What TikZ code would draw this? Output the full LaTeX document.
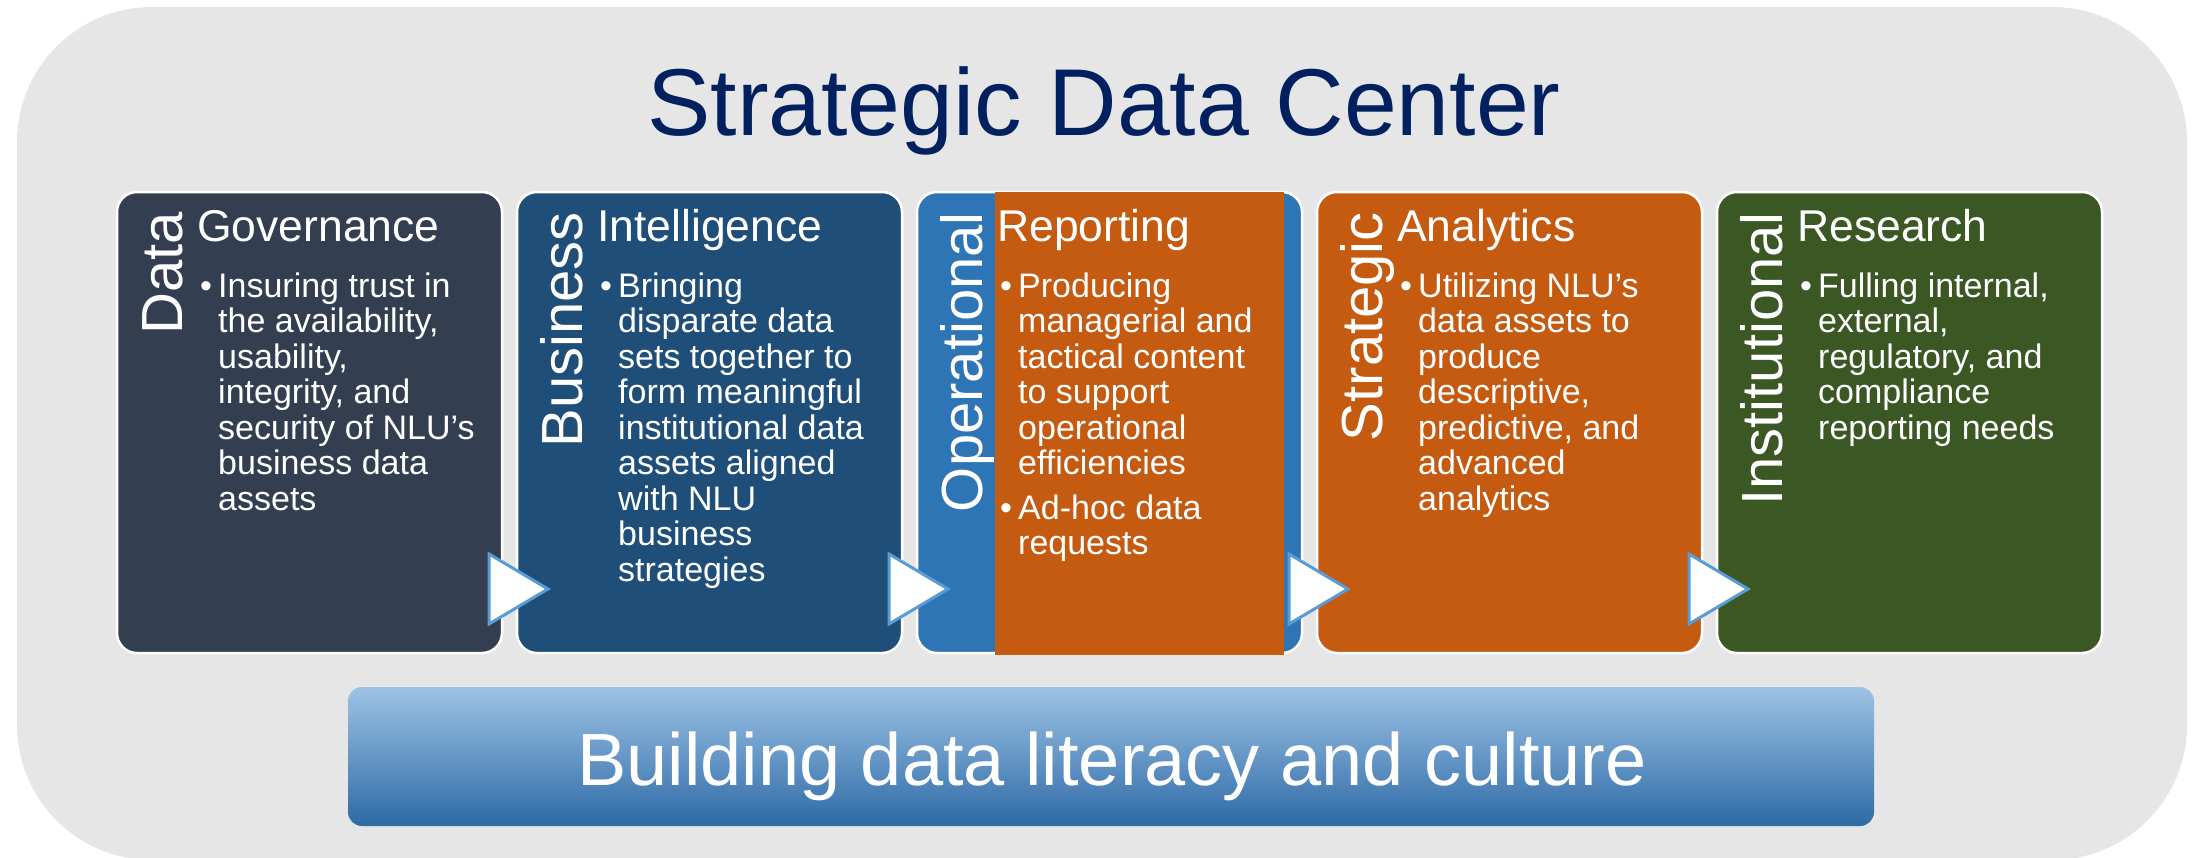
\documentclass[tikz,border=0pt]{standalone}
\usepackage{fontspec}
\setmainfont{Liberation Sans}
\definecolor{bggray}{HTML}{E6E6E6}
\definecolor{navy}{HTML}{002060}
\definecolor{cone}{HTML}{333F50}
\definecolor{ctwo}{HTML}{1F4E79}
\definecolor{cthree}{HTML}{2E75B6}
\definecolor{orng}{HTML}{C55A11}
\definecolor{cfive}{HTML}{3A5724}
\definecolor{triblue}{HTML}{5B9BD5}
\definecolor{bantop}{HTML}{9DC3E6}
\definecolor{banmid}{HTML}{5E9BD3}
\definecolor{banbot}{HTML}{2E6AA6}
\newcommand\bulx{\makebox[18pt][l]{\textbullet}}
\newcommand\indx{\hspace*{18pt}}
\newcommand\blist[1]{\begin{tabular}[t]{@{}l@{}}#1\end{tabular}}
\begin{document}
\begin{tikzpicture}[x=1pt,y=-1pt,
  box/.style={draw=white, line width=2.5pt, rounded corners=20pt, minimum width=385pt, minimum height=461pt, inner sep=0pt},
  vlabel/.style={rotate=90, anchor=base east, inner sep=0pt, text=white, font=\fontsize{58}{58}\selectfont},
  head/.style={anchor=base west, inner sep=0pt, text=white, font=\fontsize{44.5}{50}\selectfont},
  body/.style={anchor=base west, inner sep=0pt, text=white, font=\fontsize{34}{35.5}\selectfont},
  tri/.style={fill=white, draw=triblue, line width=3pt, line join=miter}]
\useasboundingbox (0,0) rectangle (2198,857);
\begin{scope}
\clip (0,0) rectangle (2198,857);
\fill[bggray, rounded corners=135pt] (17,7) rectangle (2187,860);
\end{scope}
\node[anchor=base, inner sep=0pt, text=navy, font=\fontsize{95}{95}\selectfont] (title) at (1104,135) {Strategic Data Center};
% boxes
\node[box, fill=cone] (b1) at (309.5,422.5) {};
\node[box, fill=ctwo] (b2) at (709.5,422.5) {};
\node[box, fill=cthree] (b3) at (1109.5,422.5) {};
\node[box, fill=orng] (b4) at (1509.5,422.5) {};
\node[box, fill=cfive] (b5) at (1909.5,422.5) {};
\node[fill=orng, anchor=north west, minimum width=289pt, minimum height=463pt, inner sep=0pt] (ov) at (995,192) {};
% chevrons
\draw[tri] (489,554) -- (489,624) -- (548,589) -- cycle;
\draw[tri] (889,554) -- (889,624) -- (948,589) -- cycle;
\draw[tri] (1289,554) -- (1289,624) -- (1348,589) -- cycle;
\draw[tri] (1689,554) -- (1689,624) -- (1748,589) -- cycle;
% vertical labels
\node[vlabel] (v1) at (182,212) {Data};
\node[vlabel] (v2) at (582,212) {Business};
\node[vlabel] (v3) at (982,212) {Operational};
\node[vlabel] (v4) at (1382,212) {Strategic};
\node[vlabel] (v5) at (1782,212) {Institutional};
% headers
\node[head] (h1) at (197,241) {Governance};
\node[head] (h2) at (597,241) {Intelligence};
\node[head] (h3) at (997,241) {Reporting};
\node[head] (h4) at (1397,241) {Analytics};
\node[head] (h5) at (1797,241) {Research};
% bodies
\node[body] (t1) at (200,297) {\blist{\bulx Insuring trust in\\\indx the availability,\\\indx usability,\\\indx integrity, and\\\indx security of NLU’s\\\indx business data\\\indx assets}};
\node[body] (t2) at (600,297) {\blist{\bulx Bringing\\\indx disparate data\\\indx sets together to\\\indx form meaningful\\\indx institutional data\\\indx assets aligned\\\indx with NLU\\\indx business\\\indx strategies}};
\node[body] (t3) at (1000,297) {\blist{\bulx Producing\\\indx managerial and\\\indx tactical content\\\indx to support\\\indx operational\\\indx efficiencies\\[9pt]\bulx Ad-hoc data\\\indx requests}};
\node[body] (t4) at (1400,297) {\blist{\bulx Utilizing NLU’s\\\indx data assets to\\\indx produce\\\indx descriptive,\\\indx predictive, and\\\indx advanced\\\indx analytics}};
\node[body] (t5) at (1800,297) {\blist{\bulx Fulling internal,\\\indx external,\\\indx regulatory, and\\\indx compliance\\\indx reporting needs}};
% banner
\node[rounded corners=14pt, top color=bantop, middle color=banmid, bottom color=banbot, minimum width=1526pt, minimum height=139pt, inner sep=0pt] (ban) at (1111,756.5) {};
\node[anchor=base, inner sep=0pt, text=white, font=\fontsize{74}{74}\selectfont] (bantext) at (1112,785) {Building data literacy and culture};
\end{tikzpicture}
\end{document}
